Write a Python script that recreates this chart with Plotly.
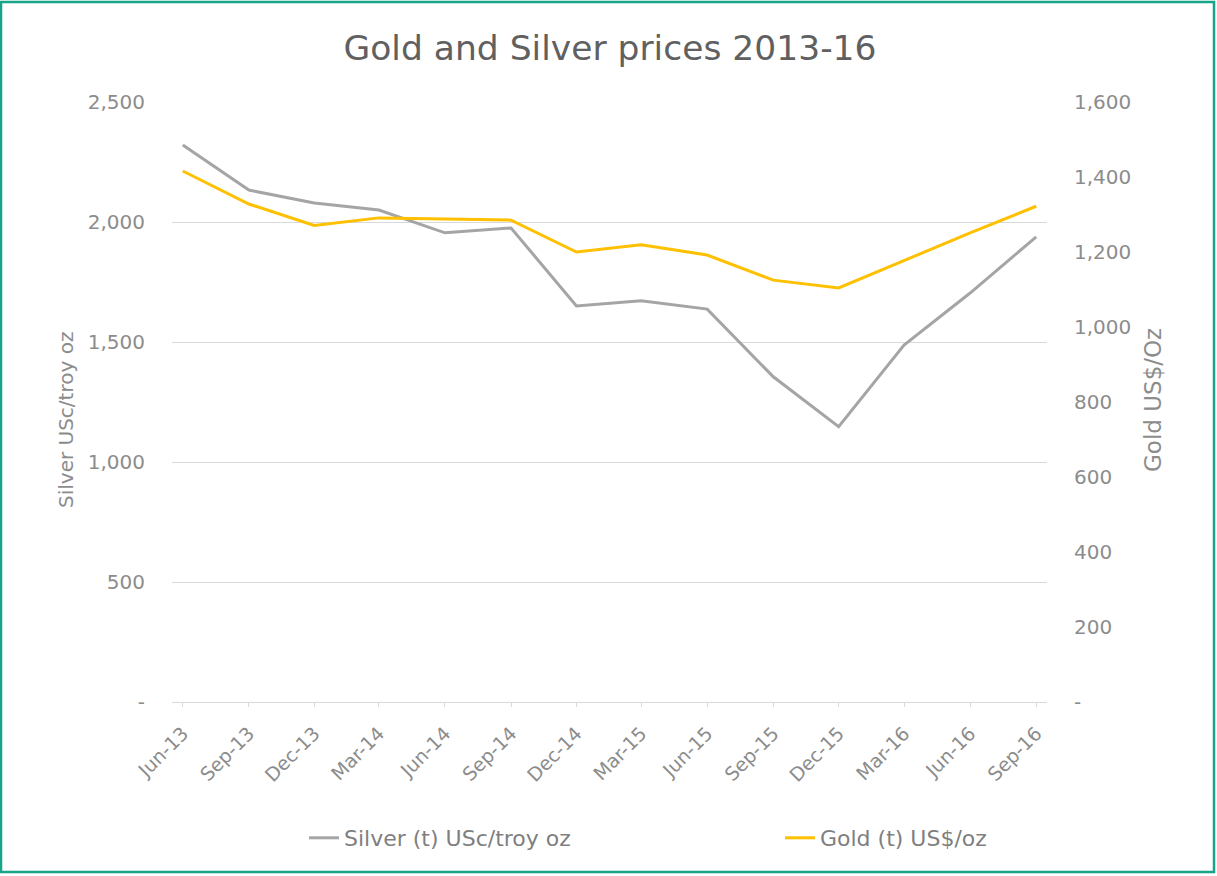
"""Gold and Silver prices 2013-16: two lines, silver on the left axis, gold on the right."""

import pandas as pd
import plotly.graph_objects as go

# Quarterly readings
quarters = ["Jun-13", "Sep-13", "Dec-13", "Mar-14", "Jun-14", "Sep-14", "Dec-14",
            "Mar-15", "Jun-15", "Sep-15", "Dec-15", "Mar-16", "Jun-16", "Sep-16"]
silver_usc = [2321, 2133, 2079, 2050, 1955, 1975, 1650,
              1672, 1637, 1355, 1147, 1487, 1704, 1938]
gold_usd = [1416, 1328, 1271, 1291, 1288, 1285, 1200,
            1219, 1192, 1125, 1104, 1177, 1251, 1322]

silver_ticks = [0, 500, 1000, 1500, 2000, 2500]
silver_ticktext = ["-", "500", "1,000", "1,500", "2,000", "2,500"]
gold_ticks = [0, 200, 400, 600, 800, 1000, 1200, 1400, 1600]
gold_ticktext = ["-", "200", "400", "600", "800", "1,000", "1,200", "1,400", "1,600"]

dates = pd.to_datetime(quarters, format="%b-%y")

FONT = "DejaVu Sans"
GREY_TXT = "#8c8c8c"

# plot area in px: x 172..1047, y 102..702
W, H = 1217, 876
ML, MR, MT, MB = 172, 170, 102, 174
PW, PH = W - ML - MR, H - MT - MB


def px_x(px):
    return (px - ML) / PW


def px_y(py):
    return (MT + PH - py) / PH


fig = go.Figure()

fig.add_trace(
    go.Scatter(
        x=dates,
        y=silver_usc,
        mode="lines",
        name="Silver (t) USc/troy oz",
        line=dict(color="#a5a5a5", width=3),
        yaxis="y",
        legend="legend",
    )
)
fig.add_trace(
    go.Scatter(
        x=dates,
        y=gold_usd,
        mode="lines",
        name="Gold (t) US$/oz",
        line=dict(color="#ffc000", width=3),
        yaxis="y2",
        legend="legend2",
    )
)

# teal frame round the whole chart
fig.add_shape(
    type="rect",
    xref="paper",
    yref="paper",
    x0=px_x(1),
    x1=px_x(W - 3),
    y0=px_y(H - 4),
    y1=px_y(2),
    line=dict(color="#17a589", width=2.5),
    layer="below",
)

# axis titles placed where Excel put them
fig.add_annotation(
    xref="paper", yref="paper", x=px_x(52), y=px_y(420),
    text="Silver USc/troy oz", textangle=-90, showarrow=False,
    font=dict(family=FONT, size=20, color=GREY_TXT),
)
fig.add_annotation(
    xref="paper", yref="paper", x=px_x(1168), y=px_y(400),
    text="Gold US$/Oz", textangle=-90, showarrow=False,
    font=dict(family=FONT, size=23, color=GREY_TXT),
)

legend_common = dict(
    orientation="h",
    xanchor="left",
    yanchor="middle",
    y=px_y(838),
    font=dict(family=FONT, size=22, color="#7f7f7f"),
    bgcolor="rgba(0,0,0,0)",
)

fig.update_layout(
    width=W,
    height=H,
    margin=dict(l=ML, r=MR, t=MT, b=MB),
    paper_bgcolor="white",
    plot_bgcolor="white",
    font=dict(family=FONT, color=GREY_TXT),
    title=dict(
        text="Gold and Silver prices 2013-16",
        x=px_x(610),
        xref="paper",
        xanchor="center",
        y=1 - 48 / H,
        yanchor="middle",
        font=dict(family=FONT, size=34.5, color="#606060"),
    ),
    xaxis=dict(
        type="date",
        range=[dates[0] - pd.Timedelta(days=15), dates[-1] + pd.Timedelta(days=15)],
        tickvals=dates,
        ticktext=quarters,
        tickangle=-45,
        tickfont=dict(size=19, color=GREY_TXT),
        ticklabelstandoff=8,
        showgrid=False,
        showline=True,
        linecolor="#d9d9d9",
        linewidth=1,
        ticks="outside",
        ticklen=4,
        tickcolor="#d9d9d9",
        zeroline=False,
    ),
    yaxis=dict(
        range=[0, 2500],
        tickvals=silver_ticks,
        ticktext=silver_ticktext,
        tickfont=dict(size=20, color=GREY_TXT),
        ticklabelstandoff=26,
        showgrid=True,
        gridcolor="#d9d9d9",
        gridwidth=1,
        zeroline=False,
    ),
    yaxis2=dict(
        range=[0, 1600],
        overlaying="y",
        side="right",
        tickvals=gold_ticks,
        ticktext=gold_ticktext,
        tickfont=dict(size=20, color=GREY_TXT),
        ticklabelstandoff=26,
        showgrid=False,
        zeroline=False,
    ),
    showlegend=True,
    legend=dict(x=px_x(304), **legend_common),
    legend2=dict(x=px_x(780), **legend_common),
)

# the page gets no body margin so the chart sits at the window corner
fig.write_html(
    "out.html",
    config={"displayModeBar": False},
    post_script="document.body.style.margin='0';",
)
